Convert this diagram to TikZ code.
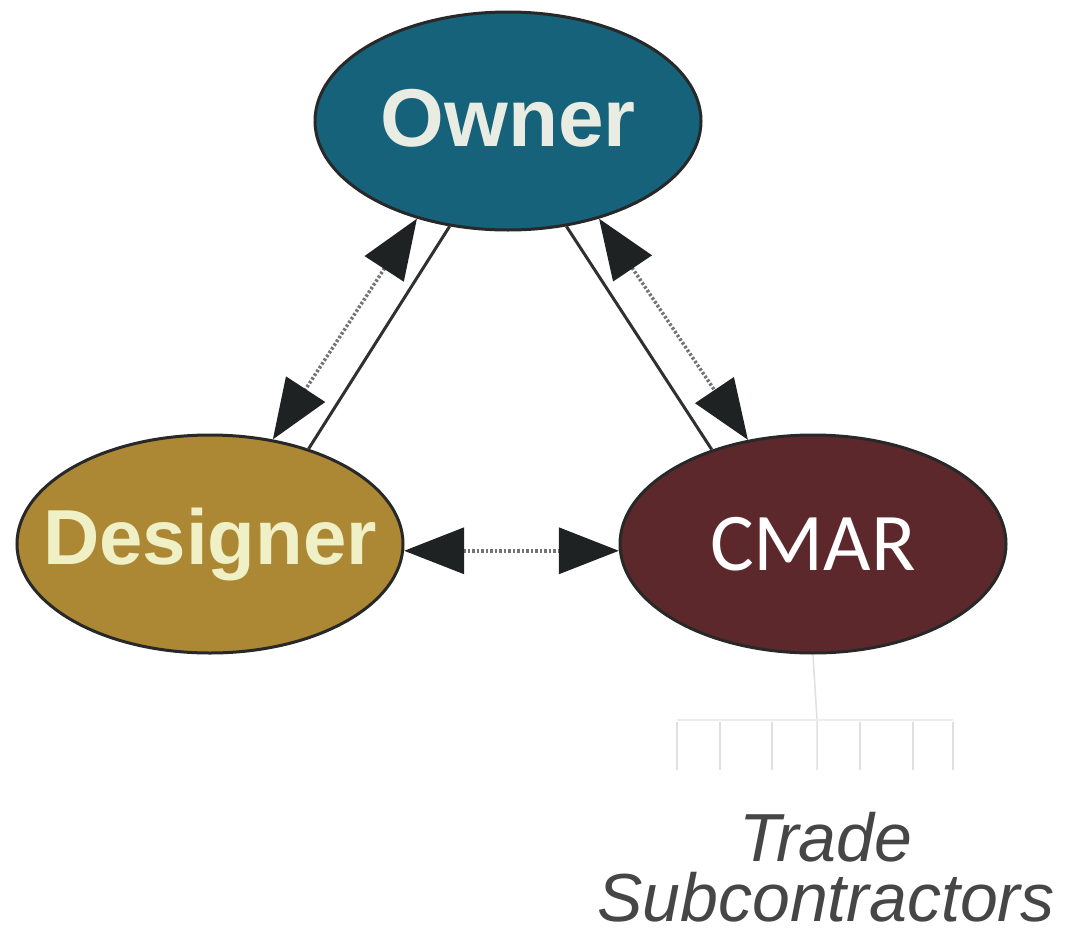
\documentclass[tikz,border=0pt]{standalone}
\usepackage{fontspec}
\setmainfont{Liberation Sans}
\newfontfamily\cmarfont{Carlito}
\usetikzlibrary{shapes.geometric,arrows.meta}

\definecolor{ownerfill}{RGB}{22,98,122}
\definecolor{designfill}{RGB}{172,136,52}
\definecolor{cmarfill}{RGB}{92,40,44}
\definecolor{rimcol}{RGB}{40,40,40}
\definecolor{ownertext}{RGB}{232,236,226}
\definecolor{designtext}{RGB}{240,240,198}
\definecolor{tipcol}{RGB}{30,34,34}
\definecolor{solidcol}{RGB}{48,48,48}
\definecolor{dotcol}{RGB}{115,115,115}
\definecolor{treecol}{RGB}{224,224,224}
\definecolor{labelcol}{RGB}{70,70,70}

\tikzset{
  party/.style={ellipse, draw=rimcol, line width=3pt, minimum width=386pt,
    minimum height=218pt, inner sep=0pt},
  talk/.style={draw=dotcol, line width=3.5pt, dash pattern=on 2.5pt off 2pt,
    {Triangle[length=60pt,width=46pt,color=tipcol]}-{Triangle[length=60pt,width=46pt,color=tipcol]}},
  contract/.style={draw=solidcol, line width=3pt},
  tree/.style={draw=treecol, line width=1.5pt},
  bus/.style={draw=treecol!60, line width=1.3pt},
  tradelabel/.style={text=labelcol, font=\itshape\fontsize{68}{62}\selectfont,
    inner sep=0pt, anchor=base, text height=49pt, text depth=0pt}
}
% a name that takes no room, so the ellipse keeps its own size
\newcommand{\partyname}[2][0pt]{\raisebox{#1}{\makebox[0pt]{#2}}}

\begin{document}
\begin{tikzpicture}[x=1pt,y=-1pt]
  \useasboundingbox (0,0) rectangle (1065,929);

  % the three parties
  \node[party, fill=ownerfill, text=ownertext, font=\bfseries\fontsize{82}{90}\selectfont]
    (own) at (508,121) {\partyname[6pt]{Owner}};
  \node[party, fill=designfill, text=designtext, font=\bfseries\fontsize{78}{90}\selectfont]
    (des) at (210,544) {\partyname[-2pt]{Designer}};
  \node[party, fill=cmarfill, text=white, font=\cmarfont\fontsize{82}{90}\selectfont]
    (cmar) at (813,544) {\partyname{CMAR}};

  % contracts (solid) and communication (dotted, two-way)
  \draw[contract] (own.241) -- (des.44);
  \draw[contract] (own.299) -- (cmar.137);
  \draw[talk] (own.227) -- (des.59);
  \draw[talk] (own.313) -- (cmar.122);
  \draw[talk] (des.-2) -- (cmar.182);

  % faint tree to the trade subcontractors
  \coordinate (hub) at (817,720);
  \coordinate (hubend) at (817,770);
  \draw[tree] (cmar.south) -- (hub) -- (hubend);
  \draw[bus] (677,720) -- (953,720);
  \foreach \tx in {677,720,772,860,913,953}{
    \draw[tree] (\tx,722) -- (\tx,770);
  }

  % label
  \node[tradelabel] (trade) at (826,861) {Trade};
  \node[tradelabel] (subs) at (826,921) {Subcontractors};
\end{tikzpicture}
\end{document}
